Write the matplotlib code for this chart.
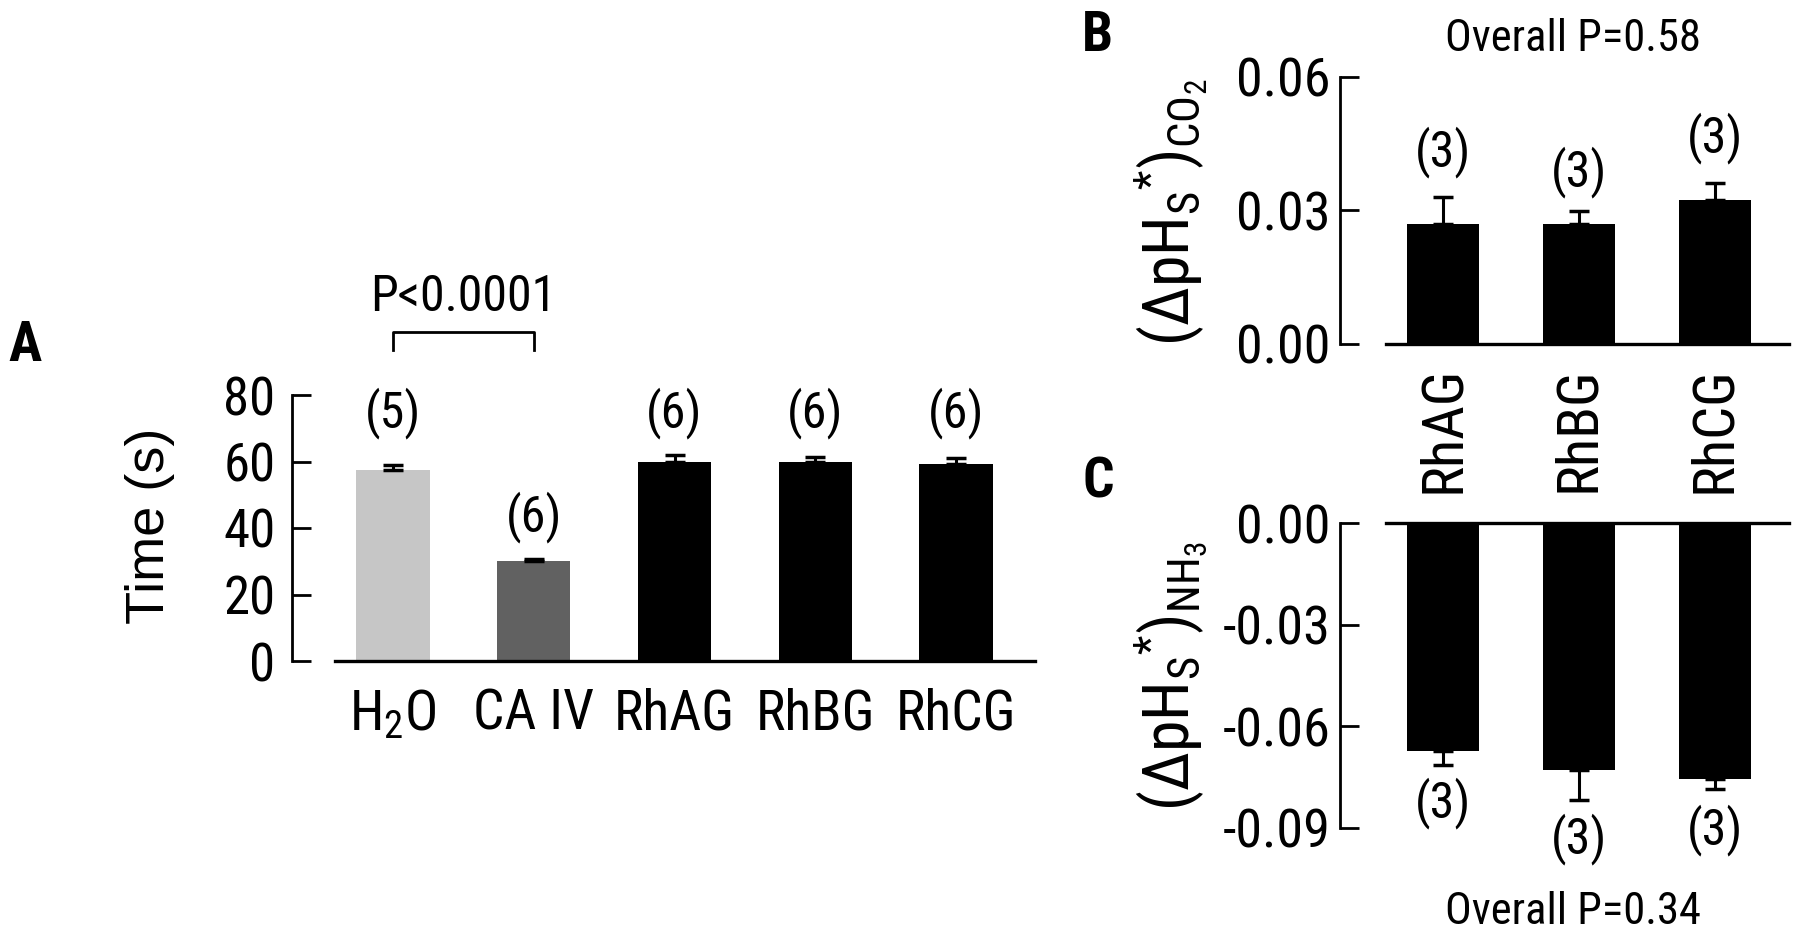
import matplotlib
matplotlib.use("Agg")
import matplotlib.pyplot as plt

# ---- data ----
a_labels = ["$\\mathsf{H_2O}$", "CA IV", "RhAG", "RhBG", "RhCG"]
a_means = [57.4, 30.1, 59.9, 59.9, 59.2]
a_err = [1.5, 0.6, 2.1, 1.5, 1.8]
a_n = ["(5)", "(6)", "(6)", "(6)", "(6)"]
a_n_y = [74.6, 43.3, 74.6, 74.6, 74.6]
a_colors = ["#c6c6c6", "#616161", "#000000", "#000000", "#000000"]

rh_labels = ["RhAG", "RhBG", "RhCG"]

b_means = [0.0269, 0.0269, 0.0323]
b_err = [0.0062, 0.0029, 0.0039]
b_n = ["(3)", "(3)", "(3)"]
b_n_y = [0.0431, 0.0386, 0.0462]

c_means = [-0.0674, -0.0730, -0.0754]
c_err = [0.0039, 0.0086, 0.0031]
c_n = ["(3)", "(3)", "(3)"]
c_n_y = [-0.0826, -0.0934, -0.0905]

COND = ["Roboto Condensed", "Archivo Narrow", "Liberation Sans", "DejaVu Sans"]
REG = ["Liberation Sans", "DejaVu Sans"]

plt.rcParams["font.family"] = COND
plt.rcParams["axes.unicode_minus"] = False
plt.rcParams["mathtext.fontset"] = "custom"
plt.rcParams["mathtext.rm"] = "Roboto Condensed"
plt.rcParams["mathtext.it"] = "Roboto Condensed"
plt.rcParams["mathtext.sf"] = "Roboto Condensed"

W, H = 1800, 950
fig = plt.figure(figsize=(18, 9.5), dpi=100)


def px_axes(left, bottom, right, top):
    return fig.add_axes([left / W, 1 - bottom / H, (right - left) / W, (bottom - top) / H])


def style_axes(ax, lw=2.0):
    for s in ["top", "right", "bottom"]:
        ax.spines[s].set_visible(False)
    ax.spines["left"].set_linewidth(lw)
    ax.tick_params(axis="y", direction="in", length=14, width=lw)
    ax.tick_params(axis="x", length=0)


def place_ylabel(ax, x, y):
    ax.yaxis.label.set_verticalalignment("center")
    ax.yaxis.set_label_coords(x, y)


# ---------------- Panel A ----------------
axA = px_axes(292, 661, 1040.5, 395)
xa = list(range(len(a_means)))
axA.bar(xa, a_means, width=0.52, color=a_colors, edgecolor=a_colors, linewidth=0, zorder=2)
axA.errorbar(xa, a_means, yerr=[[0] * len(a_err), a_err], fmt="none", ecolor="black",
             elinewidth=2.2, capsize=7, capthick=2.5, zorder=3)
axA.set_xlim(-0.718, 4.6)
axA.set_ylim(0, 80)
style_axes(axA)
axA.spines["bottom"].set_visible(True)
axA.spines["bottom"].set_linewidth(2.4)
axA.spines["bottom"].set_bounds(-0.41, 4.56)
axA.set_yticks([0, 20, 40, 60, 80])
axA.tick_params(axis="y", labelsize=38, pad=12)
axA.set_xticks(xa)
axA.set_xticklabels(a_labels, fontsize=40)
axA.tick_params(axis="x", pad=19)
axA.set_ylabel("Time (s)", fontsize=39, family=REG)
place_ylabel(axA, (150 - 292) / 748.5, 0.51)
for x, t, y in zip(xa, a_n, a_n_y):
    axA.text(x, y, t, ha="center", va="center", fontsize=36, clip_on=False)
# significance bracket
axA.plot([0, 0, 1, 1], [93.5, 99.0, 99.0, 93.5], color="black", lw=2.0, clip_on=False)
axA.text(0.5, 109.5, "P<0.0001", ha="center", va="center", fontsize=36, clip_on=False)

# ---------------- Panel B ----------------
axB = px_axes(1340, 344, 1796, 77)
xb = list(range(len(b_means)))
axB.bar(xb, b_means, width=0.53, color="black", zorder=2)
axB.errorbar(xb, b_means, yerr=[[0] * 3, b_err], fmt="none", ecolor="black",
             elinewidth=2.2, capsize=7, capthick=2.5, zorder=3)
axB.set_xlim(-0.76, 2.6)
axB.set_ylim(0, 0.06)
style_axes(axB)
axB.spines["bottom"].set_visible(True)
axB.spines["bottom"].set_linewidth(2.4)
axB.spines["bottom"].set_bounds(-0.42, 2.55)
axB.set_yticks([0.0, 0.03, 0.06])
axB.set_yticklabels(["0.00", "0.03", "0.06"])
axB.tick_params(axis="y", labelsize=39, pad=7)
axB.set_xticks(xb)
axB.set_xticklabels(rh_labels, rotation=90, fontsize=42, va="top", ha="center")
axB.tick_params(axis="x", pad=16)
axB.set_ylabel(r"$(\Delta\mathrm{pH}_{\mathrm{S}}{}^{*})_{\mathrm{CO}_{2}}$", fontsize=46)
place_ylabel(axB, (1171 - 1340) / 456, (344 - 212) / 267)
for x, t, y in zip(xb, b_n, b_n_y):
    axB.text(x, y, t, ha="center", va="center", fontsize=36, clip_on=False)

# ---------------- Panel C ----------------
axC = px_axes(1340, 828, 1796, 523)
axC.bar(xb, c_means, width=0.53, color="black", zorder=2)
axC.errorbar(xb, c_means, yerr=[c_err, [0] * 3], fmt="none", ecolor="black",
             elinewidth=2.2, capsize=7, capthick=2.5, zorder=3)
axC.set_xlim(-0.76, 2.6)
axC.set_ylim(-0.09, 0)
style_axes(axC)
axC.spines["top"].set_visible(True)
axC.spines["top"].set_linewidth(2.4)
axC.spines["top"].set_bounds(-0.42, 2.55)
axC.set_yticks([-0.09, -0.06, -0.03, 0.0])
axC.set_yticklabels(["-0.09", "-0.06", "-0.03", "0.00"])
axC.tick_params(axis="y", labelsize=39, pad=7)
axC.set_xticks([])
axC.set_ylabel(r"$(\Delta\mathrm{pH}_{\mathrm{S}}{}^{*})_{\mathrm{NH}_{3}}$", fontsize=46)
place_ylabel(axC, (1171 - 1340) / 456, (828 - 676) / 305)
for x, t, y in zip(xb, c_n, c_n_y):
    axC.text(x, y, t, ha="center", va="center", fontsize=36, clip_on=False)

# ---------------- annotations ----------------
fig.text(1573 / W, 1 - 39 / H, "Overall P=0.58", ha="center", va="center", fontsize=32)
fig.text(1573 / W, 1 - 912 / H, "Overall P=0.34", ha="center", va="center", fontsize=32)
fig.text(25 / W, 1 - 346 / H, "A", ha="center", va="center", fontsize=40, fontweight="bold")
fig.text(1097 / W, 1 - 36 / H, "B", ha="center", va="center", fontsize=40, fontweight="bold")
fig.text(1098 / W, 1 - 482 / H, "C", ha="center", va="center", fontsize=40, fontweight="bold")

fig.savefig("out.png", dpi=100)
